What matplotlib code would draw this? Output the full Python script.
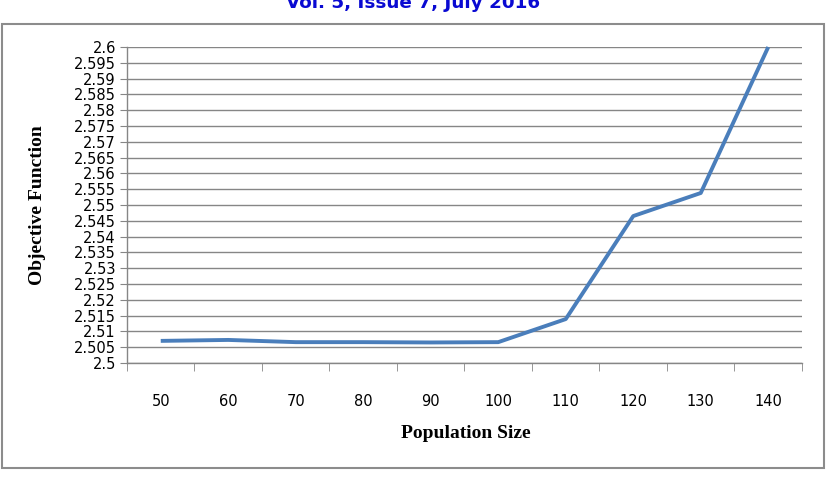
import numpy as np
import matplotlib
matplotlib.use("Agg")
import matplotlib.pyplot as plt
from matplotlib.patches import Rectangle
from matplotlib.ticker import FixedLocator, NullFormatter

####> DATA <####
population = [50, 60, 70, 80, 90, 100, 110, 120, 130, 140]
objective = [2.5070, 2.5073, 2.5066, 2.5066, 2.5065, 2.5066, 2.5139, 2.5465, 2.5538, 2.6000]
y_ticks = np.round(np.arange(2.5, 2.6001, 0.005), 3)
y_labels = [("%.3f" % v).rstrip("0").rstrip(".") for v in y_ticks]

####> FIGURE <####
fig = plt.figure(figsize=(8.28, 4.8), dpi=100)
ax = fig.add_axes([127 / 828, 1 - 363 / 480, 675 / 828, 316 / 480])

# outer chart frame
fig.patches.append(Rectangle((2 / 828, 1 - 468 / 480), 822 / 828, 444 / 480,
                             transform=fig.transFigure, fill=False,
                             edgecolor="#8c8c8c", linewidth=1.5))

# page header (cut off at the top, as in the source)
fig.text(413 / 828, 1 - 8 / 480, "Vol. 5, Issue 7, July 2016", ha="center", va="baseline",
         color="#0a0ad2", fontsize=13.2, fontweight="bold")

x = np.arange(len(population))
ax.plot(x, objective, color="#4a7ebb", linewidth=2.8, solid_capstyle="butt", clip_on=False)

ax.set_xlim(-0.5, len(population) - 0.5)
ax.set_ylim(2.5, 2.6)
ax.set_yticks(y_ticks)
ax.set_yticklabels(y_labels)
ax.set_xticks(x)
ax.set_xticklabels([str(p) for p in population])
ax.xaxis.set_minor_locator(FixedLocator(np.arange(-0.5, len(population), 1.0)))
ax.xaxis.set_minor_formatter(NullFormatter())

ax.grid(axis="y", color="#868686", linewidth=1.0)
ax.set_axisbelow(True)
for s in ["top", "right"]:
    ax.spines[s].set_visible(False)
for s in ["left", "bottom"]:
    ax.spines[s].set_color("#868686")
    ax.spines[s].set_linewidth(1.0)

ax.tick_params(axis="y", length=5, color="#868686", labelsize=10.5, pad=3, labelcolor="black")
ax.tick_params(axis="x", which="major", length=0, labelsize=10.5, pad=22)
ax.tick_params(axis="x", which="minor", length=6, color="#868686")

fig.text(38 / 828, 1 - 205 / 480, "Objective Function", rotation=90, ha="center", va="center",
         family="Liberation Serif", fontweight="bold", fontsize=14)
fig.text(466 / 828, 1 - 434 / 480, "Population Size", ha="center", va="center",
         family="Liberation Serif", fontweight="bold", fontsize=14)

fig.savefig("out.png", dpi=100)
